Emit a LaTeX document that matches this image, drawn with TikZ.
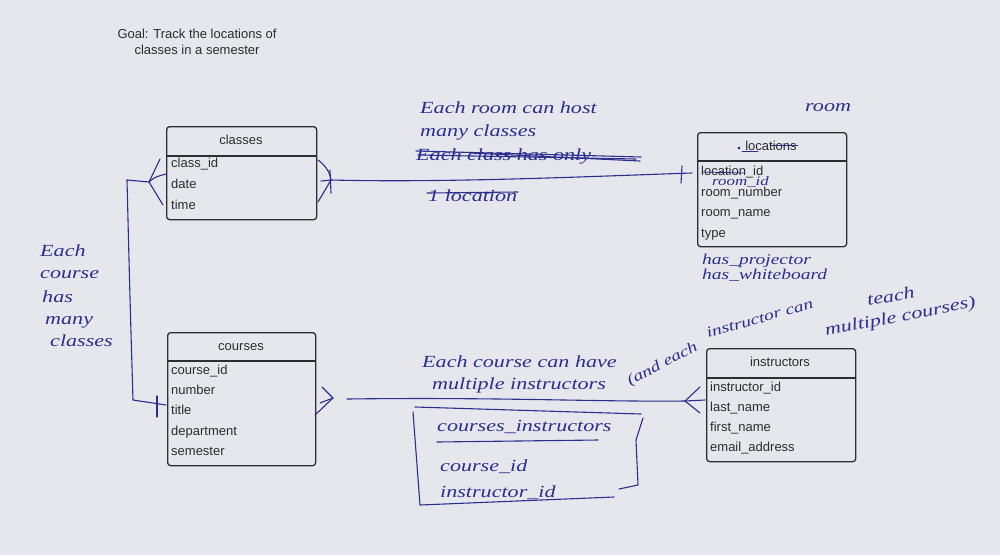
\documentclass[tikz,border=0pt]{standalone}
\usepackage{fontspec}
\setmainfont{Liberation Sans}
\newfontfamily\handfont[FakeStretch=1.3]{Liberation Serif}
\definecolor{paper}{HTML}{E6E7EC}
\definecolor{ink}{HTML}{2C2E8E}
\definecolor{frame}{HTML}{2E2E30}
\definecolor{txt}{HTML}{2C2C2E}
\begin{document}
\begin{tikzpicture}[x=1pt,y=-1pt,
 tbl/.style={draw=frame, line width=1.3pt, rounded corners=3pt, anchor=north west, inner sep=0},
 divider/.style={draw=frame, line width=1.3pt},
 hdr/.style={font=\fontsize{13}{13}\selectfont, text=txt, anchor=base, inner sep=0},
 fld/.style={font=\fontsize{13}{13}\selectfont, text=txt, anchor=base west, inner sep=0},
 hand/.style={text=ink, font=\handfont\itshape\fontsize{17}{17}\selectfont, anchor=base west, inner sep=0},
 smallhand/.style={hand, font=\handfont\itshape\fontsize{15}{15}\selectfont},
 tinyhand/.style={hand, font=\handfont\itshape\fontsize{13}{13}\selectfont},
 ink/.style={draw=ink, line width=1.1pt, line cap=round, line join=round}]
\fill[paper] (0,0) rectangle (1000,555);
\useasboundingbox (0,0) rectangle (1000,555);

% title
\node[hdr] (goal1) at (197,38) {Goal: Track the locations of};
\node[hdr] (goal2) at (197,54) {classes in a semester};

% classes
\node[tbl, minimum width=150pt, minimum height=93pt] (classes) at (166,126) {};
\draw[divider] (166,156) -- (316,156);
\node[hdr] (classesT) at (241,144) {classes};
\node[fld] (f11) at (171,167) {class\_id};
\node[fld] (f12) at (171,188) {date};
\node[fld] (f13) at (171,209) {time};

% locations
\node[tbl, minimum width=149pt, minimum height=114pt] (locations) at (697,132) {};
\draw[divider] (697,161) -- (846,161);
\node[hdr] (locationsT) at (771,150) {locations};
\node[fld] (f21) at (701,175) {location\_id};
\node[fld] (f22) at (701,196) {room\_number};
\node[fld] (f23) at (701,216) {room\_name};
\node[fld] (f24) at (701,237) {type};

% courses
\node[tbl, minimum width=148pt, minimum height=133pt] (courses) at (167,332) {};
\draw[divider] (167,361) -- (315,361);
\node[hdr] (coursesT) at (241,350) {courses};
\node[fld] (f31) at (171,374) {course\_id};
\node[fld] (f32) at (171,394) {number};
\node[fld] (f33) at (171,414) {title};
\node[fld] (f34) at (171,435) {department};
\node[fld] (f35) at (171,455) {semester};

% instructors
\node[tbl, minimum width=149pt, minimum height=113pt] (instructors) at (706,348) {};
\draw[divider] (706,378) -- (855,378);
\node[hdr] (instructorsT) at (780,366) {instructors};
\node[fld] (f41) at (710,391) {instructor\_id};
\node[fld] (f42) at (710,411) {last\_name};
\node[fld] (f43) at (710,431) {first\_name};
\node[fld] (f44) at (710,451) {email\_address};

% edits on locations table
\draw[ink, line width=0.8pt] (770,145) -- (798,145);
\draw[ink, line width=0.8pt] (742,151) -- (758,151);
\fill[ink] (739,148) circle (0.9);
\draw[ink, line width=0.8pt] (702,172) -- (744,173);
\node[tinyhand] (roomid) at (712,185) {room\_id};
\node[hand] (room) at (805,111) {room};
\node[smallhand] (proj) at (702,264) {has\_projector};
\node[smallhand] (white) at (702,279) {has\_whiteboard};

% annotations over classes-locations
\node[hand] (n1a) at (420,113) {Each room can host};
\node[hand] (n1b) at (420,136) {many classes};
\node[hand] (n1c) at (416,160) {Each class has only};
\draw[ink] (416,151) -- (641,157);
\draw[ink] (418,155) -- (636,159);
\draw[ink] (470,153) -- (640,161);
\node[hand] (n1d) at (428,201) {1 location};
\draw[ink] (427,193) -- (518,192);

% left annotation
\node[hand] (e1) at (40,256) {Each};
\node[hand] (e2) at (40,278) {course};
\node[hand] (e3) at (42,302) {has};
\node[hand] (e4) at (45,324) {many};
\node[hand] (e5) at (50,346) {classes};

% annotation over courses-instructors
\node[hand] (m1) at (422,367) {Each course can have};
\node[hand] (m2) at (432,389) {multiple instructors};
\node[smallhand, rotate=28] (m3a) at (630,386) {(and each};
\node[smallhand, rotate=16] (m3b) at (708,338) {instructor can};
\node[hand, rotate=10] (m4) at (868,306) {teach};
\node[hand, rotate=11] (m5) at (826,336) {multiple courses)};

% junction table sketch
\draw[ink] (415,407) -- (641,414);
\draw[ink] (413,412) -- (420,505) -- (614,497);
\draw[ink] (643,418) -- (636,440) -- (638,485) -- (619,489);
\node[hand] (ci) at (437,431) {courses\_instructors};
\draw[ink] (437,442) -- (598,440);
\node[hand] (ci1) at (440,471) {course\_id};
\node[hand] (ci2) at (440,497) {instructor\_id};

% connector classes -> locations
\coordinate (clsR) at (331,180);
\coordinate (locL) at (692,173);
\draw[ink] (clsR) .. controls (450,183) and (600,176) .. (locL);
\draw[ink] (318,160) .. controls (325,165) and (330,172) .. (clsR);
\draw[ink] (321,181) -- (clsR);
\draw[ink] (318,202) -- (clsR);
\draw[ink] (330,170) -- (331,193);
\draw[ink] (682,166) -- (681,183);

% connector classes -> courses
\coordinate (clsL) at (149,182);
\coordinate (bend1) at (127,180);
\coordinate (bend2) at (133,400);
\coordinate (crsL) at (166,405);
\draw[ink] (bend1) -- (clsL);
\draw[ink] (clsL) -- (160,159);
\draw[ink] (clsL) .. controls (155,177) .. (166,174);
\draw[ink] (clsL) -- (163,205);
\draw[ink] (bend1) .. controls (130,300) .. (bend2) -- (crsL);
\draw[ink] (157,396) -- (157,417);

% connector courses -> instructors
\coordinate (crsR) at (333,398);
\coordinate (insL) at (685,401);
\draw[ink] (322,387) -- (crsR);
\draw[ink] (320,403) -- (crsR);
\draw[ink] (315,415) -- (crsR);
\draw[ink] (347,399) .. controls (500,397) and (600,402) .. (insL);
\draw[ink] (insL) -- (700,387);
\draw[ink] (insL) -- (705,400);
\draw[ink] (insL) -- (700,413);
\end{tikzpicture}
\end{document}
